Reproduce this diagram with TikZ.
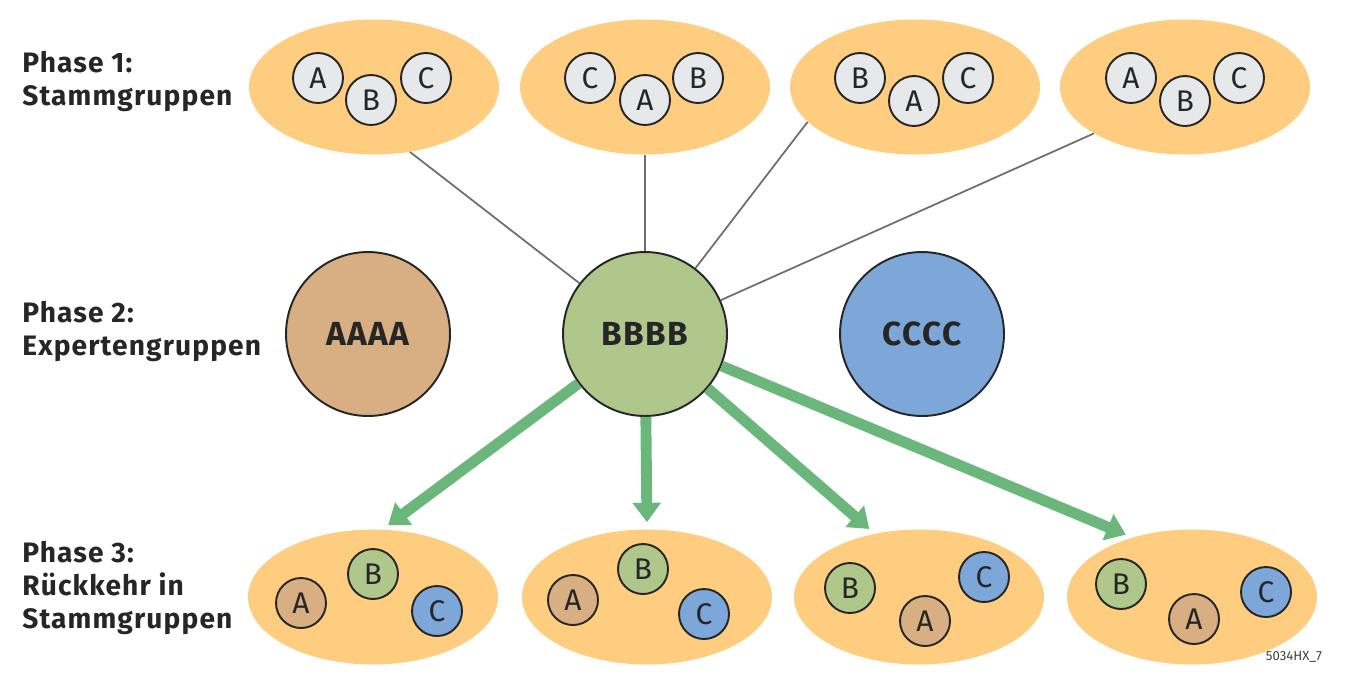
\documentclass[tikz,border=0pt]{standalone}
\usepackage{fontspec}
\setsansfont{Fira Sans}
\newfontfamily\widesans[LetterSpace=4]{Fira Sans}
\usetikzlibrary{shapes.geometric,arrows.meta}

\definecolor{groupfill}{HTML}{FFCD7F}
\definecolor{tokengray}{HTML}{E7E8E9}
\definecolor{expA}{HTML}{D8AF83}
\definecolor{expB}{HTML}{AFC78B}
\definecolor{expC}{HTML}{7CA7D8}
\definecolor{arrowgreen}{HTML}{6BB77B}
\definecolor{linkgray}{HTML}{6E6E6E}

\begin{document}
\begin{tikzpicture}[x=0.02cm, y=-0.02cm, font=\sffamily]
\tikzstyle{group}=[ellipse, fill=groupfill, minimum width=5cm, minimum height=2.7cm, inner sep=0pt]
\tikzstyle{member}=[circle, draw=black!85, line width=1.1pt, minimum size=1cm, inner sep=0pt, text=black!85, font=\sffamily\fontsize{17}{20}\selectfont]
\tikzstyle{expert}=[circle, draw=black!85, line width=1.1pt, minimum size=3.28cm, inner sep=0pt, text=black!85, font=\widesans\bfseries\fontsize{19}{22}\selectfont]
\tikzstyle{phase}=[anchor=north west, align=left, inner sep=0pt, text=black!85, font=\widesans\bfseries\fontsize{16}{18.7}\selectfont]
\tikzstyle{link}=[draw=linkgray, line width=1pt]
\tikzstyle{back}=[draw=arrowgreen, line width=6.2pt, -{Triangle[width=15.5pt,length=11pt]}, shorten >=4pt]
\useasboundingbox (0,0) rectangle (1345,674);

% phase labels
\node[phase] (p1) at (22,51)  {Phase 1:\\Stammgruppen};
\node[phase] (p2) at (22,301) {Phase 2:\\Expertengruppen};
\node[phase] (p3) at (22,541) {Phase 3:\\Rückkehr in\\Stammgruppen};

% phase 1
\node[group] (T1) at (374,87)  {};
\node[group] (T2) at (645,87)  {};
\node[group] (T3) at (915,87)  {};
\node[group] (T4) at (1185,87) {};
\node[member, fill=tokengray] (t1a) at (318,78)  {A};
\node[member, fill=tokengray] (t1b) at (371,100) {B};
\node[member, fill=tokengray] (t1c) at (426,78)  {C};
\node[member, fill=tokengray] (t2c) at (590,78)  {C};
\node[member, fill=tokengray] (t2a) at (645,100) {A};
\node[member, fill=tokengray] (t2b) at (698,78)  {B};
\node[member, fill=tokengray] (t3b) at (860,78)  {B};
\node[member, fill=tokengray] (t3a) at (914,101) {A};
\node[member, fill=tokengray] (t3c) at (968,78)  {C};
\node[member, fill=tokengray] (t4a) at (1131,78) {A};
\node[member, fill=tokengray] (t4b) at (1185,101) {B};
\node[member, fill=tokengray] (t4c) at (1239,78) {C};

% phase 2
\node[expert, fill=expA] (AAAA) at (368,334) {AAAA};
\node[expert, fill=expB] (BBBB) at (645,334) {BBBB};
\node[expert, fill=expC] (CCCC) at (922,334) {CCCC};

% phase 3
\node[group] (R1) at (373,597)  {};
\node[group] (R2) at (647,597)  {};
\node[group] (R3) at (919,597)  {};
\node[group] (R4) at (1192,597) {};
\node[member, fill=expA] (r1a) at (301,603)  {A};
\node[member, fill=expB] (r1b) at (373,574)  {B};
\node[member, fill=expC] (r1c) at (437,611)  {C};
\node[member, fill=expA] (r2a) at (573,600)  {A};
\node[member, fill=expB] (r2b) at (643,569)  {B};
\node[member, fill=expC] (r2c) at (704,614)  {C};
\node[member, fill=expB] (r3b) at (850,588)  {B};
\node[member, fill=expA] (r3a) at (925,621)  {A};
\node[member, fill=expC] (r3c) at (984,577)  {C};
\node[member, fill=expB] (r4b) at (1121,584) {B};
\node[member, fill=expA] (r4a) at (1194,619) {A};
\node[member, fill=expC] (r4c) at (1266,592) {C};

\path
(T1.299)   edge[link] (BBBB)
(T2.south) edge[link] (BBBB)
(T3.198)   edge[link] (BBBB)
(T4.207)   edge[link] (BBBB);
\path
(BBBB) edge[back] (R1.82)
       edge[back] (R2.90)
       edge[back] (R3.125)
       edge[back] (R4.135);

\node[text=black!75, font=\sffamily\fontsize{7.5}{9}\selectfont] (code) at (1294,657) {5034HX\_7};
\end{tikzpicture}
\end{document}
